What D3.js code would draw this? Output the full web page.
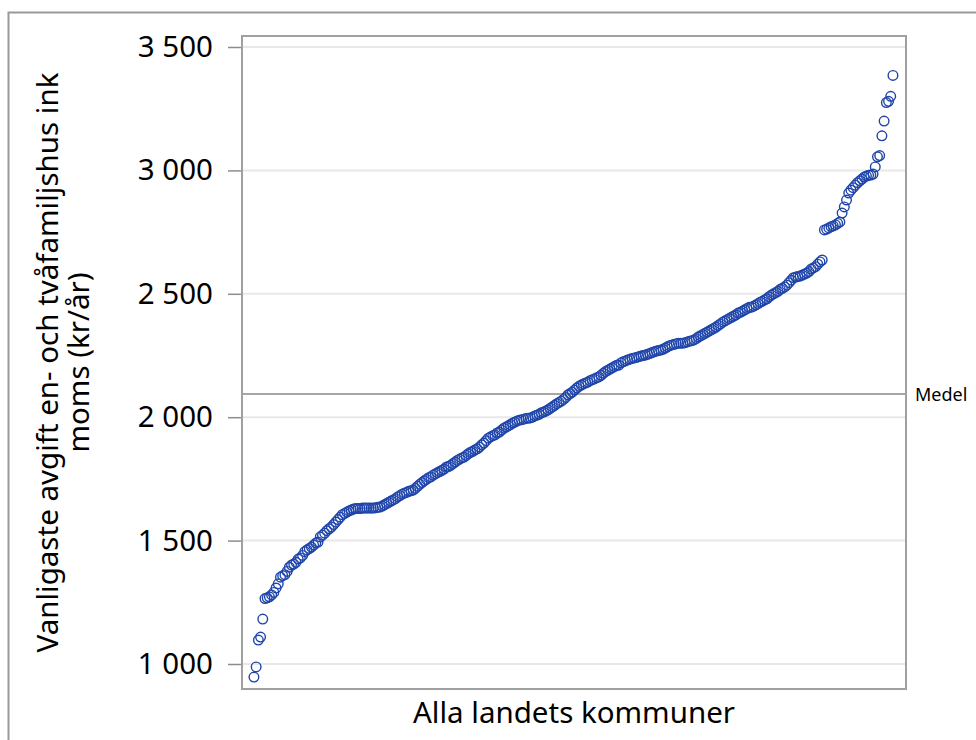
<!DOCTYPE html>
<html>
    <head>
        <meta charset="utf-8">
        <script src="https://d3js.org/d3.v7.min.js"></script>
        <style>
            * {
                font-family: "Noto Sans", "Open Sans", sans-serif;
            }
            body {
                margin: 0;
                background: #fff;
            }
            .axis text {
                font-size: 29.5px;
                fill: #000;
            }
            .axis line {
                stroke: #8c8c8c;
                stroke-width: 1.5px;
            }
            .grid line {
                stroke: #e8e8e8;
                stroke-width: 2px;
            }
            .dot {
                fill: none;
                stroke: #1f45aa;
                stroke-width: 1.4px;
            }
            .title {
                font-size: 29.5px;
                fill: #000;
            }
        </style>
    </head>
    <body>
        <div id="chart"></div>
        <script>
            // avgift per kommun, sorterat stigande (kr/år)
            var avgift = [
                947, 988, 1097, 1109, 1182, 1265, 1268, 1272, 1280, 1290,
                1308, 1325, 1352, 1358, 1362, 1375, 1392, 1401, 1405, 1412,
                1425, 1430, 1440, 1455, 1462, 1468, 1474, 1482, 1490, 1494,
                1515, 1522, 1530, 1540, 1548, 1555, 1565, 1575, 1585, 1595,
                1605, 1610, 1615, 1620, 1624, 1628, 1630, 1630, 1630, 1632,
                1632, 1632, 1632, 1632, 1632, 1633, 1635, 1636, 1640, 1645,
                1650, 1655, 1660, 1665, 1670, 1677, 1682, 1688, 1692, 1695,
                1700, 1702, 1705, 1712, 1720, 1728, 1735, 1742, 1748, 1755,
                1758, 1765, 1770, 1775, 1780, 1785, 1790, 1798, 1800, 1805,
                1812, 1818, 1825, 1830, 1835, 1838, 1845, 1852, 1858, 1862,
                1868, 1872, 1879, 1888, 1895, 1905, 1915, 1920, 1925, 1928,
                1936, 1940, 1948, 1955, 1960, 1965, 1970, 1976, 1980, 1985,
                1988, 1990, 1992, 1995, 1996, 1997, 2000, 2005, 2008, 2012,
                2018, 2021, 2025, 2030, 2036, 2042, 2048, 2055, 2060, 2065,
                2072, 2080, 2090, 2096, 2102, 2110, 2118, 2125, 2130, 2135,
                2139, 2142, 2148, 2152, 2155, 2160, 2163, 2170, 2178, 2185,
                2190, 2195, 2200, 2205, 2210, 2211, 2220, 2225, 2228, 2232,
                2235, 2238, 2240, 2242, 2245, 2248, 2250, 2252, 2255, 2258,
                2262, 2265, 2268, 2270, 2272, 2275, 2280, 2285, 2290, 2293,
                2295, 2298, 2300, 2300, 2300, 2302, 2305, 2308, 2310, 2313,
                2318, 2325, 2330, 2335, 2340, 2345, 2350, 2355, 2360, 2365,
                2372, 2378, 2385, 2390, 2395, 2400, 2405, 2410, 2415, 2422,
                2425, 2430, 2435, 2440, 2445, 2446, 2450, 2455, 2460, 2466,
                2470, 2475, 2480, 2488, 2495, 2500, 2505, 2510, 2518, 2522,
                2528, 2535, 2545, 2555, 2565, 2568, 2570, 2572, 2576, 2580,
                2584, 2590, 2600, 2605, 2610, 2620, 2629, 2637,
                2759, 2762, 2767, 2772, 2775, 2779, 2785, 2791, 2827, 2852, 2880, 2908,
                2920, 2930, 2940, 2950, 2958, 2965, 2973, 2977, 2980, 2981,
                2985, 3014, 3055, 3060, 3140, 3200, 3275, 3280, 3300, 3385
            ];
            var yTicks = [1000, 1500, 2000, 2500, 3000, 3500];
            var medel = 2094;
            var medelLabel = "Medel";
            var xTitle = "Alla landets kommuner";
            var yTitle = ["Vanligaste avgift en- och tvåfamiljshus ink", "moms (kr/år)"];

            var W = 976, H = 740;
            var plot = {left: 242, top: 36, right: 906, bottom: 689};

            var svg = d3.select("#chart").append("svg")
                .attr("width", W)
                .attr("height", H);

            // outer frame (runs off the right and bottom edge)
            svg.append("rect")
                .attr("x", 8.5).attr("y", 12.5)
                .attr("width", 1000).attr("height", 800)
                .attr("fill", "none")
                .attr("stroke", "#9a9a9a")
                .attr("stroke-width", 2);

            var xScale = d3.scaleLinear()
                .domain([-4.4, 295.9])
                .range([plot.left, plot.right]);
            var yScale = d3.scaleLinear()
                .domain([1000, 3500])
                .range([664, 47]);

            var sv = d3.formatLocale({decimal: ",", thousands: "\u00a0", grouping: [3], currency: ["", ""]});
            var fmt = sv.format(",d");

            // gridlines
            svg.append("g")
                .attr("class", "grid")
                .selectAll("line")
                .data(yTicks)
                .enter().append("line")
                .attr("x1", plot.left).attr("x2", plot.right)
                .attr("y1", function(d) { return yScale(d); })
                .attr("y2", function(d) { return yScale(d); });

            // y axis
            var yAxis = d3.axisLeft(yScale)
                .tickValues(yTicks)
                .tickSize(14)
                .tickPadding(15)
                .tickFormat(fmt);
            var yg = svg.append("g")
                .attr("class", "axis axis--y")
                .attr("transform", "translate(" + plot.left + ",0)")
                .call(yAxis);
            yg.select(".domain").remove();
            yg.selectAll("text").style("font-family", "'Noto Sans', sans-serif");

            // medelvärde
            svg.append("line")
                .attr("x1", plot.left).attr("x2", plot.right)
                .attr("y1", yScale(medel)).attr("y2", yScale(medel))
                .attr("stroke", "#a6a6a6")
                .attr("stroke-width", 2);
            svg.append("text")
                .attr("x", plot.right + 9)
                .attr("y", yScale(medel) + 7)
                .style("font-size", "18px")
                .text(medelLabel);

            // points
            svg.append("g")
                .selectAll("circle")
                .data(avgift)
                .enter().append("circle")
                .attr("class", "dot")
                .attr("cx", function(d, i) { return xScale(i + 1); })
                .attr("cy", function(d) { return yScale(d); })
                .attr("r", 4.8);

            // plot border
            svg.append("rect")
                .attr("x", plot.left).attr("y", plot.top)
                .attr("width", plot.right - plot.left)
                .attr("height", plot.bottom - plot.top)
                .attr("fill", "none")
                .attr("stroke", "#a0a0a0")
                .attr("stroke-width", 2);

            // titles
            svg.append("text")
                .attr("class", "title")
                .attr("x", (plot.left + plot.right) / 2)
                .attr("y", 723)
                .attr("text-anchor", "middle")
                .text(xTitle);

            var yt = svg.append("text")
                .attr("class", "title")
                .attr("text-anchor", "middle")
                .attr("transform", "translate(58," + ((plot.top + plot.bottom) / 2) + ") rotate(-90)");
            yt.selectAll("tspan")
                .data(yTitle)
                .enter().append("tspan")
                .attr("x", 0)
                .attr("dy", function(d, i) { return i ? 31 : 0; })
                .text(function(d) { return d; });
        </script>
    </body>
</html>
